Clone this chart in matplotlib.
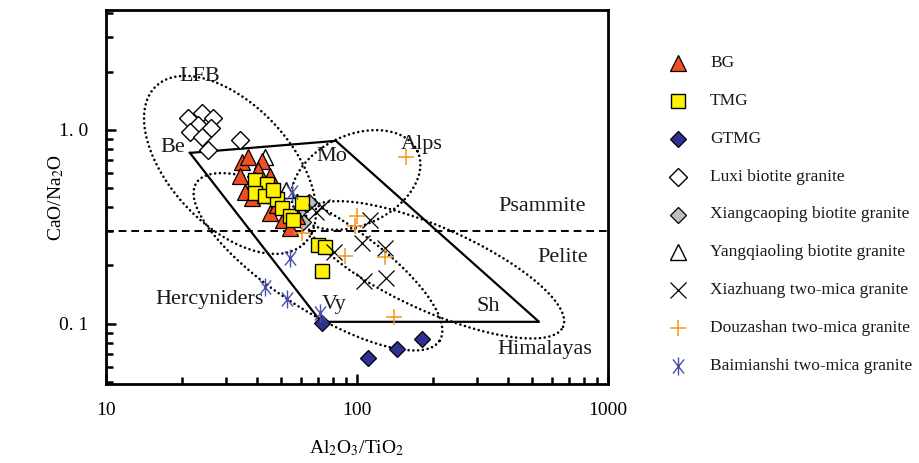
import numpy as np
import matplotlib
matplotlib.use("Agg")
import matplotlib.pyplot as plt
from matplotlib.path import Path
from matplotlib.ticker import LogLocator, NullFormatter, FixedLocator, FixedFormatter


plt.rcParams["font.family"] = ["Liberation Serif", "DejaVu Serif"]
plt.rcParams["mathtext.fontset"] = "stix"

# sample data: x = Al2O3/TiO2, y = CaO/Na2O
bg_x = [34.8, 36.8, 41.8, 34.2, 40.3, 45.0, 35.8, 38.2, 41.8, 45.0, 48.0, 50.7, 54.1, 57.7, 43.0, 39.2]
bg_y = [0.684, 0.726, 0.692, 0.579, 0.622, 0.579, 0.479, 0.446, 0.502, 0.373, 0.411, 0.344, 0.313, 0.360, 0.462, 0.552]

tmg_x = [39.2, 43.8, 39.2, 43.0, 48.0, 46.3, 50.2, 54.1, 55.6, 60.4, 69.9, 74.6, 72.5]
tmg_y = [0.552, 0.527, 0.474, 0.457, 0.441, 0.491, 0.396, 0.360, 0.344, 0.420, 0.256, 0.249, 0.188]

gtmg_x = [72.5, 110.6, 144.3, 181.6]
gtmg_y = [0.101, 0.0668, 0.0743, 0.0837]

luxi_x = [21.2, 24.1, 26.7, 23.3, 26.2, 21.6, 24.1, 34.2, 25.5]
luxi_y = [1.153, 1.224, 1.153, 1.061, 1.024, 0.977, 0.920, 0.888, 0.789]

xiangcaoping_x = [64.4, 60.9, 58.2]
xiangcaoping_y = [0.425, 0.336, 0.378]

yangqiaoling_x = [43.0, 52.1]
yangqiaoling_y = [0.726, 0.491]

xiazhuang_x = [68.7, 72.5, 112.7, 104.7, 129.3, 106.6, 130.5, 81.0]
xiazhuang_y = [0.378, 0.401, 0.344, 0.262, 0.247, 0.167, 0.173, 0.235]

douzashan_x = [156.7, 100.0, 98.2, 89.6, 129.3, 140.4, 60.4]
douzashan_y = [0.726, 0.360, 0.320, 0.224, 0.222, 0.109, 0.294]

baimianshi_x = [55.1, 54.1, 43.0, 52.6, 71.2]
baimianshi_y = [0.479, 0.219, 0.155, 0.135, 0.114]

# mixing polygon Be - Mo - Sh - Vy
poly_x = [21.6, 82.4, 531.0, 71.9, 21.6]
poly_y = [0.761, 0.878, 0.1025, 0.1025, 0.761]

# fields: centre and semi-axis vectors in log10 decades
field_names = ["LFB", "Alps", "Himalayas", "Hercyniders"]
field_cx = [31.2, 99.0, 204.6, 69.9]
field_cy = [0.66, 0.552, 0.19, 0.209]
field_major = [(0.294, -0.407), (0.2455, 0.148), (0.510, -0.2935), (0.4845, -0.407)]
field_minor = [(0.176, 0.212), (0.0757, -0.210), (0.068, 0.198), (0.104, 0.208)]

psammite_pelite = 0.3

# label anchors (data coords)
label_text = ["LFB", "Be", "Mo", "Alps", "Psammite", "Pelite", "Hercyniders", "Vy", "Sh", "Himalayas"]
label_x = [23.7, 18.5, 79.5, 181.6, 545.8, 662.0, 25.96, 80.9, 332.5, 561.0]
label_y = [1.876, 0.807, 0.726, 0.837, 0.401, 0.219, 0.133, 0.1253, 0.1224, 0.0734]

legend_labels = [
    "BG", "TMG", "GTMG", "Luxi biotite granite", "Xiangcaoping biotite granite",
    "Yangqiaoling biotite granite", "Xiazhuang two-mica granite",
    "Douzashan two-mica granite", "Baimianshi two-mica granite",
]

asterisk = Path(
    [(0, -1), (0, 1), (-0.62, -0.78), (0.62, 0.78), (-0.62, 0.78), (0.62, -0.78)],
    [Path.MOVETO, Path.LINETO, Path.MOVETO, Path.LINETO, Path.MOVETO, Path.LINETO],
)

styles = {
    "BG": dict(marker="^", ms=12, mfc="#F04E23", mec="black", mew=0.9),
    "TMG": dict(marker="s", ms=10.5, mfc="#FFF200", mec="black", mew=1.0),
    "GTMG": dict(marker="D", ms=8.5, mfc="#2E3192", mec="black", mew=0.9),
    "Luxi biotite granite": dict(marker="D", ms=9.2, mfc="white", mec="black", mew=1.0),
    "Xiangcaoping biotite granite": dict(marker="D", ms=8.5, mfc="#BCBEC0", mec="black", mew=0.9),
    "Yangqiaoling biotite granite": dict(marker="^", ms=12, mfc="white", mec="black", mew=1.0),
    "Xiazhuang two-mica granite": dict(marker="x", ms=11, mfc="none", mec="black", mew=0.9),
    "Douzashan two-mica granite": dict(marker="+", ms=12, mfc="none", mec="#F7941D", mew=1.1),
    "Baimianshi two-mica granite": dict(marker=asterisk, ms=13, mfc="none", mec="#4A4FAA", mew=1.0),
}

series = [
    ("Xiangcaoping biotite granite", xiangcaoping_x, xiangcaoping_y),
    ("Yangqiaoling biotite granite", yangqiaoling_x, yangqiaoling_y),
    ("Luxi biotite granite", luxi_x, luxi_y),
    ("BG", bg_x, bg_y),
    ("TMG", tmg_x, tmg_y),
    ("GTMG", gtmg_x, gtmg_y),
    ("Xiazhuang two-mica granite", xiazhuang_x, xiazhuang_y),
    ("Douzashan two-mica granite", douzashan_x, douzashan_y),
    ("Baimianshi two-mica granite", baimianshi_x, baimianshi_y),
]


def field_outline(cx, cy, major, minor, n=400):
    t = np.linspace(0, 2 * np.pi, n)
    u = np.log10(cx) + major[0] * np.cos(t) + minor[0] * np.sin(t)
    v = np.log10(cy) + major[1] * np.cos(t) + minor[1] * np.sin(t)
    return 10 ** u, 10 ** v


fig = plt.figure(figsize=(9.19, 4.63), dpi=100)
ax = fig.add_axes([106 / 919, 1 - 384 / 463, 502 / 919, 374 / 463])
ax.set_xscale("log")
ax.set_yscale("log")
ax.set_xlim(10, 1000)
ax.set_ylim(0.049, 4.15)

# fields
for cx, cy, ma, mi in zip(field_cx, field_cy, field_major, field_minor):
    fx, fy = field_outline(cx, cy, ma, mi)
    ax.plot(fx, fy, color="black", lw=1.9, linestyle=(0, (0.01, 1.8)),
            dash_capstyle="round", zorder=1)

ax.plot(poly_x, poly_y, color="black", lw=1.6, zorder=2)
ax.axhline(psammite_pelite, color="black", lw=1.4, linestyle=(0, (4, 2.5)), zorder=2)

for txt, lx, ly in zip(label_text, label_x, label_y):
    ax.text(lx, ly, txt, fontsize=16, ha="center", va="center", color="#1a1a1a", zorder=3)

for name, xs, ys in series:
    ax.plot(xs, ys, linestyle="none", zorder=4, **styles[name])

# axes cosmetics
for side in ax.spines.values():
    side.set_linewidth(2.0)

ax.xaxis.set_major_locator(FixedLocator([10, 100, 1000]))
ax.xaxis.set_major_formatter(FixedFormatter(["10", "100", "1000"]))
ax.xaxis.set_minor_locator(LogLocator(base=10, subs=np.arange(2, 10)))
ax.xaxis.set_minor_formatter(NullFormatter())
ax.yaxis.set_major_locator(FixedLocator([0.1, 1.0]))
ax.yaxis.set_major_formatter(FixedFormatter(["0. 1", "1. 0"]))
ax.yaxis.set_minor_locator(LogLocator(base=10, subs=np.arange(2, 10)))
ax.yaxis.set_minor_formatter(NullFormatter())

ax.tick_params(which="both", direction="in", top=False, right=False, width=1.8)
ax.tick_params(which="major", length=7, labelsize=14, pad=13)
ax.tick_params(which="minor", length=5)

ax.set_xlabel(r"Al$_2$O$_3$/TiO$_2$", fontsize=14, va="center")
ax.set_ylabel(r"CaO/Na$_2$O", fontsize=14, va="center")
ax.xaxis.set_label_coords(0.5, -0.171)
ax.yaxis.set_label_coords(-0.10, 0.5)

# legend drawn in its own axes
leg = fig.add_axes([660 / 919, 1 - 385 / 463, 259 / 919, 341 / 463])
leg.set_xlim(0, 1)
leg.set_ylim(len(legend_labels) - 0.5, -0.5)
leg.axis("off")
for i, name in enumerate(legend_labels):
    leg.plot(0.0695, i, linestyle="none", clip_on=False, **styles[name])
    leg.text(0.193, i, name, fontsize=12.5, ha="left", va="center", color="#1a1a1a")

fig.savefig("out.png", dpi=100)
